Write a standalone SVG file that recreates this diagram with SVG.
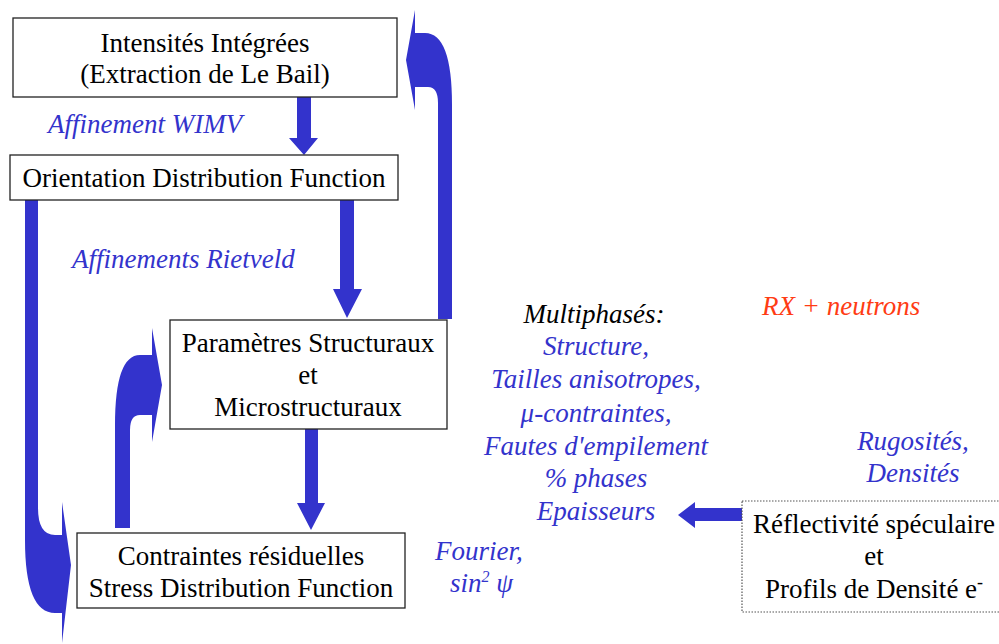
<svg xmlns="http://www.w3.org/2000/svg" width="999" height="644" viewBox="0 0 999 644">
<style>
.box{fill:#fff;stroke:#222;stroke-width:1.3}
.dot{fill:#fff;stroke:#555;stroke-width:1.2;stroke-dasharray:1.5 1.5}
text{font-family:'Liberation Serif','DejaVu Serif',serif;font-size:27px}
.t{fill:#000;text-anchor:middle}
.i{font-style:italic;fill:#3333cc}
.ib{fill:#000}
.red{fill:#ff3c14}
.c{text-anchor:middle}
.a{fill:#3333cc;stroke:none}
</style>
<rect width="999" height="644" fill="#fff"/>
<g id="connectors">
<polygon class="a" points="297,97 311,97 311,138 318,138 304,155 289,138 297,138"/>
<polygon class="a" points="340,200 354,200 354,289 362,289 347,318 333,289 340,289"/>
<polygon class="a" points="305,429 318,429 318,503 325,503 311,530 297,503 305,503"/>
<polygon class="a" points="742,508 742,521 695,521 695,528 678,515 695,502 695,508"/>
<path class="a" d="M25,200 H38 V508 Q38,535 55,535 H62 V502 L71,565 L62,643 V613 H55 Q25,613 25,540 Z"/>
<path class="a" d="M115,528 V425 Q115,355 140,355 H152 V328 L162,385 L152,442 V415 H140 Q130,415 130,430 V528 Z"/>
<path class="a" d="M438,319 H452 V105 Q452,33 425,33 H415 V10 L406,60 L415,110 V87 H428 Q438,87 438,103 Z"/>
</g>
<g id="n-intensites">
<rect class="box" x="13" y="18" width="384" height="79"/>
<text class="t" x="205" y="52">Intensités Intégrées</text>
<text class="t" x="205" y="83">(Extraction de Le Bail)</text>
</g>
<g id="n-odf">
<rect class="box" x="10" y="155" width="388" height="45"/>
<text class="t" x="204" y="187">Orientation Distribution Function</text>
</g>
<g id="n-parametres">
<rect class="box" x="170" y="320" width="277" height="109"/>
<text class="t" x="308" y="352">Paramètres Structuraux</text>
<text class="t" x="308" y="384">et</text>
<text class="t" x="308" y="416">Microstructuraux</text>
</g>
<g id="n-contraintes">
<rect class="box" x="77" y="533" width="328" height="75"/>
<text class="t" x="241" y="565">Contraintes résiduelles</text>
<text class="t" x="241" y="597">Stress Distribution Function</text>
</g>
<g id="n-reflectivite">
<rect class="dot" x="742" y="501" width="262" height="111"/>
<text class="t" x="874" y="533">Réflectivité spéculaire</text>
<text class="t" x="874" y="565">et</text>
<text class="t" x="874" y="598">Profils de Densité e<tspan font-size="18" dy="-10">-</tspan></text>
</g>
<g id="labels">
<text class="i" x="48" y="133">Affinement WIMV</text>
<text class="i" x="72" y="268">Affinements Rietveld</text>
<text class="i red" x="762" y="315">RX + neutrons</text>
<text class="i ib c" x="594" y="323">Multiphasés:</text>
<text class="i c" x="596" y="355">Structure,</text>
<text class="i c" x="596" y="388">Tailles anisotropes,</text>
<text class="i c" x="596" y="422">μ-contraintes,</text>
<text class="i c" x="596" y="455">Fautes d'empilement</text>
<text class="i c" x="596" y="487">% phases</text>
<text class="i c" x="596" y="520">Epaisseurs</text>
<text class="i" x="435" y="560">Fourier,</text>
<text class="i" x="450" y="592">sin<tspan font-size="16" dy="-10">2</tspan><tspan dy="10"> ψ</tspan></text>
<text class="i c" x="913" y="450">Rugosités,</text>
<text class="i c" x="913" y="482">Densités</text>
</g>
</svg>
